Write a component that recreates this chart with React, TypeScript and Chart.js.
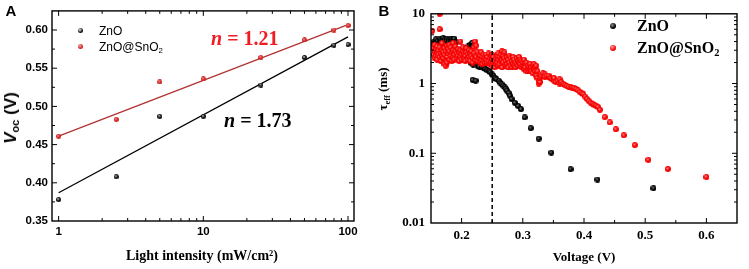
import React, { useEffect, useRef } from "react";
import { Chart, registerables } from "chart.js";

Chart.register(...registerables);

// ---------- Panel A data ----------
const intensity = [1, 2.5, 5, 10, 25, 50, 80, 100];
const vocZnO = [0.378, 0.408, 0.487, 0.487, 0.528, 0.564, 0.58, 0.581];
const vocZnOSnO2 = [0.461, 0.483, 0.532, 0.536, 0.564, 0.587, 0.6, 0.606];
const fitIntensity = [1, 100];
const fitZnO = [0.387, 0.591];
const fitZnOSnO2 = [0.461, 0.607];
const xTicksA = [1, 10, 100];
const yTicksA = [0.35, 0.4, 0.45, 0.5, 0.55, 0.6];

// ---------- Panel B data ----------
const znoV = [
  0.155, 0.155, 0.158, 0.158, 0.161, 0.161, 0.164, 0.164, 0.167, 0.167,
  0.17, 0.17, 0.173, 0.173, 0.176, 0.176, 0.179, 0.179, 0.182, 0.182,
  0.185, 0.188, 0.188, 0.191,
  0.205, 0.208, 0.211, 0.211, 0.214, 0.214, 0.217, 0.217, 0.219,
  0.218, 0.223,
  0.216, 0.219, 0.226, 0.229, 0.233, 0.236, 0.239, 0.242, 0.245, 0.247,
  0.25, 0.252, 0.2545, 0.257, 0.261, 0.263, 0.2654, 0.268, 0.2707, 0.272,
  0.274, 0.277, 0.279, 0.2816, 0.287, 0.2925, 0.297, 0.303, 0.313, 0.326,
  0.3465, 0.378, 0.422, 0.5135,
];
const znoTau = [
  4.0, 3.6, 4.3, 3.8, 4.1, 3.5, 4.4, 3.9, 4.2, 3.7,
  4.5, 4.0, 4.3, 3.8, 4.4, 4.1, 4.2, 3.9, 4.4, 4.0,
  4.3, 4.2, 4.4, 3.9,
  3.0, 3.2, 3.4, 3.0, 3.6, 3.2, 3.8, 3.4, 3.5,
  1.13, 1.1,
  1.95, 1.87, 1.8, 1.75, 1.73, 1.68, 1.62, 1.55, 1.51, 1.45,
  1.35, 1.3, 1.21, 1.15, 1.09, 1.03, 0.98, 0.93, 0.88, 0.84,
  0.79, 0.73, 0.67, 0.6, 0.53, 0.476, 0.428, 0.327, 0.229, 0.162,
  0.102, 0.059, 0.042, 0.0315,
];
const snoV = [
  0.152, 0.154, 0.154, 0.156, 0.156, 0.156, 0.158, 0.158, 0.16, 0.16, 0.16,
  0.162, 0.162, 0.164, 0.164, 0.164, 0.164, 0.166, 0.166, 0.168, 0.168, 0.168,
  0.17, 0.17, 0.172, 0.172, 0.172, 0.174, 0.174, 0.176, 0.176, 0.176,
  0.178, 0.178, 0.18, 0.18, 0.18, 0.182, 0.182, 0.184, 0.184, 0.186, 0.186, 0.186,
  0.188, 0.188, 0.19, 0.19, 0.192, 0.192, 0.194, 0.194, 0.196, 0.196, 0.198, 0.198, 0.198,
  0.2, 0.2, 0.202, 0.202, 0.204, 0.204, 0.206, 0.206, 0.208, 0.208, 0.21, 0.21,
  0.212, 0.212, 0.214, 0.214, 0.216, 0.216, 0.218, 0.218, 0.22, 0.22,
  0.222, 0.222, 0.222, 0.224, 0.224, 0.226, 0.226, 0.228, 0.228, 0.23, 0.23,
  0.232, 0.232, 0.234, 0.234, 0.236, 0.236, 0.238, 0.238, 0.24, 0.24, 0.242, 0.242,
  0.244, 0.244, 0.246, 0.246, 0.248, 0.248, 0.25, 0.25, 0.25, 0.252, 0.252,
  0.254, 0.254, 0.256, 0.256, 0.258, 0.258, 0.26, 0.26, 0.26, 0.262, 0.262, 0.264, 0.264,
  0.266, 0.266, 0.266, 0.268, 0.268, 0.27, 0.27, 0.272, 0.272, 0.274, 0.274, 0.276, 0.276,
  0.278, 0.278, 0.28, 0.28, 0.282, 0.282, 0.284, 0.284, 0.286, 0.286, 0.288, 0.288,
  0.29, 0.29, 0.292, 0.292, 0.294, 0.294, 0.296, 0.296, 0.298, 0.298, 0.3, 0.3,
  0.302, 0.302, 0.304, 0.304, 0.306, 0.306, 0.308, 0.308, 0.31, 0.31, 0.312, 0.312,
  0.314, 0.314, 0.316, 0.316, 0.318, 0.318, 0.32, 0.32, 0.322, 0.322,
  0.324, 0.324, 0.326, 0.326, 0.328, 0.328, 0.33, 0.333, 0.336, 0.336, 0.339,
  0.342, 0.342, 0.345, 0.348, 0.351, 0.351, 0.354, 0.357, 0.36, 0.36, 0.363,
  0.366, 0.369, 0.372, 0.375, 0.378, 0.381, 0.384, 0.387, 0.39, 0.393, 0.396,
  0.399, 0.402, 0.405, 0.408, 0.411, 0.414, 0.417, 0.42, 0.423, 0.426, 0.434,
  0.442, 0.452, 0.465, 0.483, 0.505, 0.537, 0.6,
];
const snoTau = [
  5.7, 3.2, 2.6, 2.9, 2.3, 3.6, 2.5, 3.1, 2.8, 2.2, 3.4,
  2.6, 3.0, 10.0, 6.0, 2.4, 3.3, 2.7, 2.1, 3.0, 2.5, 3.8,
  2.3, 2.8, 1.9, 3.2, 2.6, 1.8, 2.9, 2.4, 3.5, 2.0,
  2.7, 3.1, 2.2, 2.9, 3.6, 2.5, 3.3, 2.1, 2.8, 3.0, 2.4, 3.8,
  2.6, 2.2, 2.9, 3.4, 2.3, 2.7, 2.5, 3.1, 2.1, 2.8, 4.0, 2.4, 3.0,
  2.6, 2.2, 2.9, 3.3, 2.3, 2.7, 2.5, 2.1, 2.8, 3.2, 2.2, 2.6,
  2.4, 3.0, 2.1, 2.7, 2.5, 2.9, 2.3, 2.0, 2.7, 3.3,
  4.0, 2.2, 2.5, 3.5, 2.4, 2.1, 2.8, 2.3, 2.6, 2.0, 2.5,
  2.2, 2.8, 2.4, 1.9, 2.1, 2.6, 2.3, 2.0, 2.6, 2.2, 2.0, 2.4,
  2.7, 2.1, 2.3, 1.9, 2.5, 2.0, 2.2, 2.6, 1.8, 2.4, 2.0,
  2.1, 1.7, 2.3, 1.9, 2.5, 2.0, 2.2, 1.8, 2.7, 2.4, 1.9, 2.6, 2.1,
  2.9, 2.2, 1.7, 2.5, 2.0, 2.8, 2.3, 2.1, 1.8, 2.4, 1.9, 2.2, 1.7,
  2.0, 2.5, 1.8, 2.3, 2.1, 1.7, 1.9, 2.4, 2.2, 1.8, 1.7, 2.0,
  2.3, 1.9, 2.1, 1.8, 2.4, 2.0, 1.9, 2.2, 2.1, 1.7, 1.8, 2.0,
  1.6, 2.2, 1.9, 1.7, 1.5, 2.0, 1.8, 1.6, 1.7, 1.5, 1.9, 1.6,
  1.5, 1.7, 1.8, 1.4, 1.6, 1.9, 1.7, 1.5, 1.8, 1.3,
  1.2, 1.5, 1.1, 1.0, 1.05, 1.2, 1.3, 1.4, 1.35, 1.25, 1.3,
  1.25, 1.3, 1.2, 1.15, 1.1, 1.2, 1.05, 1.1, 1.15, 1.0, 1.05,
  0.98, 0.95, 0.92, 0.9, 0.88, 0.87, 0.86, 0.83, 0.8, 0.76, 0.73,
  0.7, 0.65, 0.6, 0.56, 0.53, 0.51, 0.49, 0.48, 0.46, 0.42, 0.33,
  0.277, 0.221, 0.181, 0.131, 0.0805, 0.0596, 0.0455,
];
const dashVoltage = 0.25;
const xTicksB = [0.2, 0.3, 0.4, 0.5, 0.6];
const yTicksB = [0.01, 0.1, 1, 10];

const SANS = "'Liberation Sans', Arial, sans-serif";
const SERIF = "'Liberation Serif', 'Times New Roman', serif";

function pairs(xs: number[], ys: number[]) {
  const n = Math.min(xs.length, ys.length);
  const out: { x: number; y: number }[] = [];
  for (let i = 0; i < n; i++) out.push({ x: xs[i], y: ys[i] });
  return out;
}

function ball(d: number, base: string, hi: string) {
  const c = document.createElement("canvas");
  c.width = d;
  c.height = d;
  const g = c.getContext("2d")!;
  const r = d / 2;
  const grad = g.createRadialGradient(r * 0.75, r * 0.7, 0, r, r, r);
  grad.addColorStop(0, hi);
  grad.addColorStop(0.6, base);
  grad.addColorStop(1, base);
  g.fillStyle = grad;
  g.beginPath();
  g.arc(r, r, r, 0, Math.PI * 2);
  g.fill();
  return c;
}

const frameTicks = {
  id: "frameTicks",
  afterDatasetsDraw(chart: any, _args: any, opts: any) {
    const { ctx, chartArea, scales } = chart;
    const { left, right, top, bottom } = chartArea;
    const sx = scales.x;
    const sy = scales.y;
    ctx.save();
    ctx.strokeStyle = "#000";
    ctx.lineWidth = 1;
    const seg = (x1: number, y1: number, x2: number, y2: number) => {
      ctx.beginPath();
      ctx.moveTo(x1, y1);
      ctx.lineTo(x2, y2);
      ctx.stroke();
    };
    const tx = (v: number, len: number) => {
      const p = sx.getPixelForValue(v);
      if (p < left + 1 || p > right - 1) return;
      seg(p, bottom, p, bottom - len);
      seg(p, top, p, top + len);
    };
    const ty = (v: number, len: number) => {
      const p = sy.getPixelForValue(v);
      if (p < top + 1 || p > bottom - 1) return;
      seg(left, p, left + len, p);
      seg(right, p, right - len, p);
    };
    sx.ticks.forEach((t: any) => tx(t.value, opts.major));
    (opts.xMinor || []).forEach((v: number) => tx(v, opts.minor));
    sy.ticks.forEach((t: any) => ty(t.value, opts.major));
    (opts.yMinor || []).forEach((v: number) => ty(v, opts.minor));
    ctx.lineWidth = 1.4;
    ctx.strokeRect(left, top, right - left, bottom - top);
    ctx.restore();
  },
};

const Dot = ({ cx, cy, d, base, hi }: any) => (
  <div
    style={{
      position: "absolute",
      left: cx - d / 2,
      top: cy - d / 2,
      width: d,
      height: d,
      borderRadius: "50%",
      background: `radial-gradient(circle at 38% 35%, ${hi} 0%, ${base} 60%)`,
    }}
  />
);

const Txt = ({ x, y, center, rotate, style, children }: any) => (
  <div
    style={{
      position: "absolute",
      left: x,
      top: y,
      transform:
        (center ? "translate(-50%,-50%)" : "translate(0,-50%)") +
        (rotate ? " rotate(-90deg)" : ""),
      whiteSpace: "nowrap",
      lineHeight: 1,
      color: "#000",
      ...style,
    }}
  >
    {children}
  </div>
);

const subStyle: any = { fontSize: "0.65em", verticalAlign: "-0.3em", lineHeight: 0 };

export default function App() {
  const refA = useRef<HTMLCanvasElement>(null);
  const refB = useRef<HTMLCanvasElement>(null);

  useEffect(() => {
    const blackA = ball(5, "#111", "#e8e8e8");
    const redA = ball(5, "#d02525", "#f6a8a8");
    const blackB = ball(6, "#000", "#8a8a8a");
    const redB = ball(6, "#f50000", "#ff9c9c");

    const xMinorA: number[] = [];
    [1, 10].forEach((dec) => {
      for (let m = 2; m <= 9; m++) xMinorA.push(m * dec);
    });
    const yMinorA = yTicksA.map((v) => v + 0.025);
    const xMinorB = xTicksB.map((v) => v + 0.05).concat([0.15]);
    const yMinorB: number[] = [];
    [0.01, 0.1, 1].forEach((dec) => {
      for (let m = 2; m <= 9; m++) yMinorB.push(m * dec);
    });

    const tickFontA = { family: SANS, size: 11.5, weight: "bold" as const };
    const tickFontB = { family: SERIF, size: 13, weight: "bold" as const };

    const chartA = new Chart(refA.current!, {
      type: "scatter",
      data: {
        datasets: [
          {
            data: pairs(intensity, vocZnOSnO2),
            pointStyle: redA as any,
            pointRadius: 2.5,
          },
          {
            data: pairs(intensity, vocZnO),
            pointStyle: blackA as any,
            pointRadius: 2.5,
          },
          {
            data: pairs(fitIntensity, fitZnOSnO2),
            showLine: true,
            pointRadius: 0,
            borderColor: "#b23232",
            borderWidth: 1.3,
          },
          {
            data: pairs(fitIntensity, fitZnO),
            showLine: true,
            pointRadius: 0,
            borderColor: "#000",
            borderWidth: 1.3,
          },
        ],
      },
      options: {
        responsive: false,
        animation: false,
        events: [],
        layout: { padding: { left: 0, right: 21, top: 10, bottom: 0 } },
        plugins: {
          legend: { display: false },
          tooltip: { enabled: false },
          frameTicks: { xMinor: xMinorA, yMinor: yMinorA, major: 5, minor: 3 },
        } as any,
        scales: {
          x: {
            type: "logarithmic",
            min: 0.9,
            max: 110,
            grid: { display: false, drawTicks: false },
            border: { display: false },
            afterBuildTicks: (s: any) => {
              s.ticks = xTicksA.map((v) => ({ value: v }));
            },
            afterFit: (s: any) => {
              s.height = 48;
            },
            ticks: {
              autoSkip: false,
              maxRotation: 0,
              padding: 4,
              color: "#000",
              font: tickFontA,
              callback: (v: any) => String(v),
            },
          },
          y: {
            type: "linear",
            min: 0.35,
            max: 0.625,
            grid: { display: false, drawTicks: false },
            border: { display: false },
            afterBuildTicks: (s: any) => {
              s.ticks = yTicksA.map((v) => ({ value: v }));
            },
            afterFit: (s: any) => {
              s.width = 52;
            },
            ticks: {
              autoSkip: false,
              padding: 4,
              color: "#000",
              font: tickFontA,
              callback: (v: any) => Number(v).toFixed(2),
            },
          },
        },
      },
      plugins: [frameTicks as any],
    });

    const chartB = new Chart(refB.current!, {
      type: "scatter",
      data: {
        datasets: [
          {
            data: [
              { x: dashVoltage, y: yTicksB[0] },
              { x: dashVoltage, y: yTicksB[yTicksB.length - 1] },
            ],
            showLine: true,
            pointRadius: 0,
            borderColor: "#000",
            borderWidth: 1.5,
            borderDash: [4, 3],
          },
          {
            data: pairs(snoV, snoTau),
            pointStyle: redB as any,
            pointRadius: 3,
          },
          {
            data: pairs(znoV, znoTau),
            pointStyle: blackB as any,
            pointRadius: 3,
          },
        ],
      },
      options: {
        responsive: false,
        animation: false,
        events: [],
        layout: { padding: { left: 0, right: 12, top: 10, bottom: 0 } },
        plugins: {
          legend: { display: false },
          tooltip: { enabled: false },
          frameTicks: { xMinor: xMinorB, yMinor: yMinorB, major: 5, minor: 3 },
        } as any,
        scales: {
          x: {
            type: "linear",
            min: 0.15,
            max: 0.65,
            grid: { display: false, drawTicks: false },
            border: { display: false },
            afterBuildTicks: (s: any) => {
              s.ticks = xTicksB.map((v) => ({ value: v }));
            },
            afterFit: (s: any) => {
              s.height = 46;
            },
            ticks: {
              autoSkip: false,
              maxRotation: 0,
              padding: 5,
              color: "#000",
              font: tickFontB,
              callback: (v: any) => Number(v).toFixed(1),
            },
          },
          y: {
            type: "logarithmic",
            min: 0.01,
            max: 10,
            grid: { display: false, drawTicks: false },
            border: { display: false },
            afterBuildTicks: (s: any) => {
              s.ticks = yTicksB.map((v) => ({ value: v }));
            },
            afterFit: (s: any) => {
              s.width = 56;
            },
            ticks: {
              autoSkip: false,
              padding: 6,
              color: "#000",
              font: tickFontB,
              callback: (v: any) => String(v),
            },
          },
        },
      },
      plugins: [frameTicks as any],
    });

    return () => {
      chartA.destroy();
      chartB.destroy();
    };
  }, []);

  return (
    <div
      style={{
        position: "absolute",
        left: 0,
        top: 0,
        width: 749,
        height: 269,
        background: "#fff",
        overflow: "hidden",
      }}
    >
      <div style={{ position: "absolute", left: 0, top: 0, width: 375, height: 269 }}>
        <canvas ref={refA} width={375} height={269} style={{ width: 375, height: 269, display: "block" }} />
      </div>
      <div style={{ position: "absolute", left: 375, top: 0, width: 374, height: 269 }}>
        <canvas ref={refB} width={374} height={269} style={{ width: 374, height: 269, display: "block" }} />
      </div>

      {/* Panel labels */}
      <Txt x={11} y={10} center style={{ font: `bold 15px ${SANS}` }}>A</Txt>
      <Txt x={384} y={10} center style={{ font: `bold 15px ${SANS}` }}>B</Txt>

      {/* Panel A legend */}
      <Dot cx={80} cy={30.7} d={5} base="#111" hi="#e8e8e8" />
      <Dot cx={80} cy={46.3} d={5} base="#d02525" hi="#f6a8a8" />
      <Txt x={99} y={31} style={{ font: `12px ${SANS}` }}>ZnO</Txt>
      <Txt x={99} y={46.5} style={{ font: `12px ${SANS}` }}>
        ZnO@SnO<sub style={subStyle}>2</sub>
      </Txt>

      {/* Panel A annotations */}
      <Txt x={211} y={37.5} style={{ font: `bold 20px ${SERIF}`, color: "#f01c24" }}>
        <i>n</i> = 1.21
      </Txt>
      <Txt x={224} y={120} style={{ font: `bold 20px ${SERIF}` }}>
        <i>n</i> = 1.73
      </Txt>

      {/* Panel A axis titles */}
      <Txt x={202} y={256} center style={{ font: `bold 14px ${SERIF}` }}>
        Light intensity (mW/cm²)
      </Txt>
      <Txt x={11} y={118} center rotate style={{ font: `bold 17px ${SANS}` }}>
        <i>V</i>
        <sub style={subStyle}>oc</sub> (V)
      </Txt>

      {/* Panel B legend */}
      <Dot cx={612.7} cy={26} d={6} base="#000" hi="#8a8a8a" />
      <Dot cx={612.7} cy={47.7} d={6} base="#f50000" hi="#ff9c9c" />
      <Txt x={637} y={26} style={{ font: `bold 16px ${SERIF}` }}>ZnO</Txt>
      <Txt x={637} y={47.7} style={{ font: `bold 16px ${SERIF}` }}>
        ZnO@SnO<sub style={subStyle}>2</sub>
      </Txt>

      {/* Panel B axis titles */}
      <Txt x={584} y={257} center style={{ font: `bold 13px ${SERIF}` }}>
        Voltage (V)
      </Txt>
      <Txt x={383} y={89} center rotate style={{ font: `bold 13px ${SERIF}` }}>
        τ<sub style={subStyle}>eff</sub> (ms)
      </Txt>
    </div>
  );
}
